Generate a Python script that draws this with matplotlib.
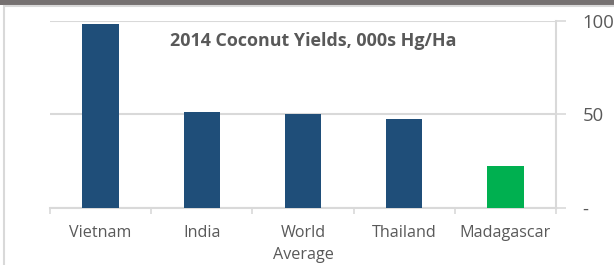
import matplotlib.pyplot as plt
from matplotlib.patches import Rectangle
from matplotlib.ticker import FixedLocator, NullFormatter

countries = ["Vietnam", "India", "World\nAverage", "Thailand", "Madagascar"]
yields = [98.0, 51.0, 50.1, 47.4, 22.3]
bar_colors = ["#1F4E79", "#1F4E79", "#1F4E79", "#1F4E79", "#00B050"]
y_ticks = [0, 50, 100]
y_labels = ["-", "50", "100"]

TEXT = "#595959"
GRID = "#D9D9D9"


def main():
    plt.rcParams['font.family'] = ['Open Sans', 'DejaVu Sans']
    fig = plt.figure(figsize=(6.14, 2.65), dpi=100)
    W, H = 614, 265

    # frame: dark strip on top and a light border
    fig.patches.append(Rectangle((0, 1 - 4.5 / H), 1, 4.5 / H, transform=fig.transFigure,
                                 facecolor="#767171", edgecolor="none", zorder=0))
    fig.patches.append(Rectangle((4 / W, -0.05), 1.1, 1 - 5.5 / H + 0.05,
                                 transform=fig.transFigure, facecolor="none",
                                 edgecolor=GRID, linewidth=1.5, zorder=0))

    ax = fig.add_axes([50 / W, 1 - 208 / H, (556 - 50) / W, (208 - 20.5) / H])
    x = range(len(countries))
    ax.bar(x, yields, width=0.36, color=bar_colors, zorder=3)

    ax.set_xlim(-0.5, len(countries) - 0.5)
    ax.set_ylim(0, 100)

    ax.yaxis.tick_right()
    ax.set_yticks(y_ticks)
    ax.set_yticklabels(y_labels)
    ax.tick_params(axis='y', direction='out', length=7, width=1.2, color=GRID,
                   labelsize=13.3, labelcolor=TEXT, pad=12)
    for lbl in ax.get_yticklabels():
        lbl.set_horizontalalignment('left')

    ax.set_xticks(list(x))
    ax.set_xticklabels(countries, linespacing=1.5)
    ax.tick_params(axis='x', which='major', length=0, labelsize=11.6,
                   labelcolor=TEXT, pad=12)
    ax.xaxis.set_minor_locator(FixedLocator([i - 0.5 for i in range(len(countries) + 1)]))
    ax.xaxis.set_minor_formatter(NullFormatter())
    ax.tick_params(axis='x', which='minor', direction='out', length=4, width=1.2,
                   color=GRID)
    for lbl in ax.get_xticklabels():
        lbl.set_verticalalignment('top')

    ax.grid(axis='y', color=GRID, linewidth=1.5, zorder=0)
    ax.set_axisbelow(True)
    for side in ["top", "left"]:
        ax.spines[side].set_visible(False)
    for side in ["bottom", "right"]:
        ax.spines[side].set_color(GRID)
        ax.spines[side].set_linewidth(1.5)

    fig.text(313 / W, 1 - 41 / H, "2014 Coconut Yields, 000s Hg/Ha", ha='center',
             va='center', fontsize=12.9, fontweight='bold', color=TEXT)

    fig.savefig("out.png", dpi=100)


if __name__ == "__main__":
    main()
